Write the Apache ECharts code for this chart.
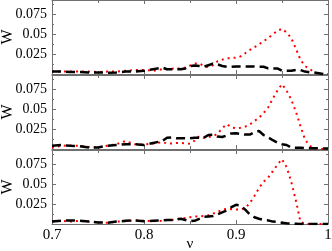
<!DOCTYPE html>
<html><head><meta charset="utf-8">
<script src="https://cdn.jsdelivr.net/npm/echarts@6/dist/echarts.min.js"></script>
<style>html,body{margin:0;padding:0;background:#fff}#c{width:332px;height:251px}</style>
</head><body><div id="c"></div>
<script>
const nu = [0.70,0.71,0.72,0.73,0.74,0.75,0.76,0.77,0.78,0.79,0.80,0.81,0.82,
  0.825,0.83,0.835,0.84,0.845,0.85,0.855,0.86,0.865,0.87,0.875,0.88,0.885,0.89,0.895,0.90,
  0.905,0.91,0.915,0.92,0.925,0.93,0.935,0.94,0.945,0.95,0.955,0.96,0.965,0.97,0.975,0.98,
  0.985,0.99,0.995,1.0];
const black1 = [.003,.003,.0025,.0025,.002,.002,.0015,.002,.003,.003,.004,.006,.008,
  .006,.006,.006,.006,.007,.010,.0105,.010,.009,.011,.013,.012,.010,.009,.009,.0095,
  .0095,.0095,.0095,.0095,.009,.009,.007,.007,.007,.004,.004,.004,.005,.005,.003,.002,
  .002,.001,0,0];
const red1 = [.003,.003,.003,.003,.003,.0025,.003,.003,.004,.005,.005,.004,.006,
  .006,.0065,.007,.007,.008,.0105,.013,.0133,.010,.0085,.011,.016,.018,.0195,.020,.0205,
  .022,.026,.030,.0335,.037,.041,.045,.0495,.054,.0565,.052,.045,.032,.018,.010,.0065,
  .002,0,0,0];
const black2 = [.004,.005,.004,.0035,.002,.002,.004,.005,.006,.006,.005,.0075,.010,
  .014,.0145,.0135,.0133,.0133,.0133,.014,.014,.014,.0175,.018,.0155,.015,.017,.0195,.0196,
  .019,.018,.018,.021,.0225,.0175,.0145,.011,.008,.006,.005,.002,.0015,.0015,.001,.001,
  .001,.0008,.0005,.0005];
const red2 = [.0015,.004,.0045,.004,.0025,.002,.004,.006,.010,.006,.0055,.007,.0085,
  .007,.007,.0075,.0075,.007,.0065,.0105,.016,.014,.015,.016,.019,.026,.031,.027,.026,
  .0265,.028,.0305,.035,.039,.045,.052,.063,.073,.081,.073,.062,.047,.029,.012,.004,
  .001,0,0,0];
const black3 = [.003,.004,.0045,.004,.003,.002,.0015,.003,.004,.0045,.0035,.004,.0045,
  .005,.005,.0055,.0065,.005,.0035,.004,.0065,.009,.0095,.010,.012,.0145,.017,.021,.024,
  .023,.018,.012,.0085,.0065,.005,.0045,.003,.0025,.0015,.0008,.0004,.0002,0,0,0,
  0,0,0,0];
const red3 = [.003,.004,.003,.004,.003,.002,.0015,.003,.0035,.0045,.004,.0035,.004,
  .005,.005,.006,.007,.0075,.0085,.0095,.0095,.010,.011,.013,.015,.018,.019,.0185,.018,
  .018,.020,.026,.035,.045,.053,.058,.066,.074,.081,.071,.053,.030,.003,0,0,
  0,0,0,0];
const xTickLabels = {0.7:'0.7',0.8:'0.8',0.9:'0.9',1:'1'};
const yTickLabels = ['0.025','0.05','0.075'];
const xName = 'ν';
const yName = 'W';

const panels = [[black1, red1],[black2, red2],[black3, red3]];
const FONT = '"Liberation Serif","DejaVu Serif",serif';
const LINE = '#707070';
const tops = [0, 75, 150];
const H = 74;

const grids = [], xAxes = [], yAxes = [], series = [];
panels.forEach((p, i) => {
  grids.push({left: 52, right: 4, top: tops[i], height: H, containLabel: false, outerBoundsMode: 'none'});
  const last = i === panels.length - 1;
  const xBase = {
    type: 'value', gridIndex: i, min: 0.7, max: 1.0, interval: 0.1,
    axisLine: {show: true, onZero: false, lineStyle: {color: LINE, width: 1}},
    axisTick: {show: true, inside: true, length: 4, lineStyle: {color: LINE}},
    minorTick: {show: true, splitNumber: 2, length: 3, lineStyle: {color: LINE}},
    splitLine: {show: false}, minorSplitLine: {show: false}
  };
  xAxes.push(Object.assign({}, xBase, {
    position: 'bottom',
    axisLabel: {show: last, color: '#000', fontFamily: FONT, fontSize: 15, margin: 4,
      formatter: v => xTickLabels[Math.round(v*10)/10] || ''},
    name: last ? xName : '', nameLocation: 'middle', nameGap: 13, nameMoveOverlap: false,
    nameTextStyle: {color: '#000', fontFamily: FONT, fontSize: 15}
  }));
  xAxes.push(Object.assign({}, xBase, {position: 'top', axisLabel: {show: false}}));
  const yBase = {
    type: 'value', gridIndex: i, min: 0, max: 0.0925, interval: 0.025,
    axisLine: {show: true, onZero: false, lineStyle: {color: LINE, width: 1}},
    axisTick: {show: true, inside: true, length: 4, lineStyle: {color: LINE}},
    minorTick: {show: true, splitNumber: 2, length: 2, lineStyle: {color: LINE}},
    splitLine: {show: false}, minorSplitLine: {show: false}
  };
  yAxes.push(Object.assign({}, yBase, {
    position: 'left',
    axisLabel: {color: '#000', fontFamily: FONT, fontSize: 14, margin: 5,
      formatter: v => { const k = Math.round(v/0.025); return (k>=1 && k<=3 && Math.abs(v-k*0.025)<1e-6) ? yTickLabels[k-1] : ''; }},
    name: yName, nameLocation: 'middle', nameGap: 36, nameRotate: 90, nameMoveOverlap: false,
    nameTextStyle: {color: '#000', fontFamily: FONT, fontSize: 16}
  }));
  yAxes.push(Object.assign({}, yBase, {position: 'right', axisLabel: {show: false}}));
  series.push({
    type: 'line', xAxisIndex: 2*i, yAxisIndex: 2*i, symbol: 'none', smooth: false,
    data: nu.map((x, j) => [x, p[1][j]]),
    lineStyle: {color: '#ff0000', width: 2, type: [2, 4]}, z: 3
  });
  series.push({
    type: 'line', xAxisIndex: 2*i, yAxisIndex: 2*i, symbol: 'none', smooth: false,
    data: nu.map((x, j) => [x, p[0][j]]),
    lineStyle: {color: '#000', width: 2.5, type: [9, 5]}, z: 4
  });
});

const chart = echarts.init(document.getElementById('c'), null, {renderer: 'canvas'});
chart.setOption({animation: false, backgroundColor: '#fff', grid: grids, xAxis: xAxes, yAxis: yAxes, series});
</script></body></html>
